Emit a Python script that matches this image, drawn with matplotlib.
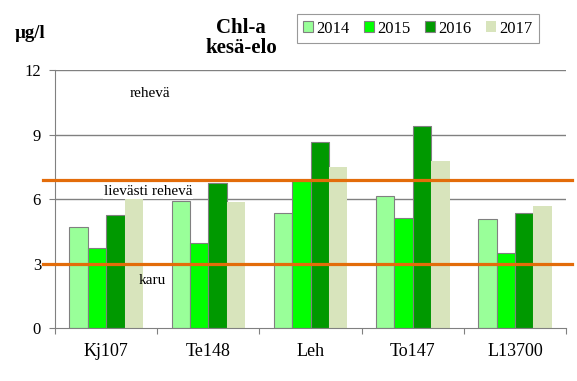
import numpy as np
import matplotlib
matplotlib.use("Agg")
import matplotlib.pyplot as plt

plt.rcParams['font.family'] = 'serif'
plt.rcParams['font.serif'] = ['Liberation Serif', 'Times New Roman', 'DejaVu Serif']

stations = ['Kj107', 'Te148', 'Leh', 'To147', 'L13700']
years = ['2014', '2015', '2016', '2017']
v2014 = [4.70, 5.90, 5.35, 6.13, 5.07]
v2015 = [3.72, 3.95, 6.85, 5.12, 3.49]
v2016 = [5.26, 6.74, 8.65, 9.40, 5.35]
v2017 = [6.30, 5.86, 7.49, 7.77, 5.67]
colors = ['#99FF99', '#00FF00', '#009900', '#D8E4BC']
edges = ['#808080', '#808080', '#808080', 'none']
limits = [3.0, 6.9]

fig = plt.figure(figsize=(5.77, 3.81), dpi=100)
ax = fig.add_axes([0.0953, 0.139, 0.886, 0.677])

x = np.arange(len(stations))
w = 0.18
for i, vals in enumerate([v2014, v2015, v2016, v2017]):
    ax.bar(x + (i - 1.5) * w, vals, w, color=colors[i], edgecolor=edges[i],
           linewidth=0.8, label=years[i], zorder=2)

for y in [3, 6, 9, 12]:
    ax.axhline(y, color='#808080', lw=1, zorder=1)

for lim in limits:
    ax.plot([-0.62, 4.56], [lim, lim], color='#E36C0A', lw=2.3,
            clip_on=False, zorder=3)

ax.text(0.43, 10.93, 'rehevä', fontsize=11, ha='center', va='center', zorder=4)
ax.text(0.41, 6.33, 'lievästi rehevä', fontsize=11, ha='center', va='center',
        zorder=4, bbox=dict(facecolor='white', edgecolor='none', pad=0.5))
ax.text(0.45, 2.19, 'karu', fontsize=11, ha='center', va='center', zorder=4)

ax.set_xlim(-0.5, 4.5)
ax.set_ylim(0, 12)
ax.set_yticks([0, 3, 6, 9, 12])
ax.set_xticks(np.arange(-0.5, 5, 1))
ax.set_xticklabels([])
ax.set_xticks(x, minor=True)
ax.set_xticklabels(stations, minor=True, fontsize=13)
ax.tick_params(axis='x', which='minor', length=0, pad=11)
ax.tick_params(axis='x', which='major', length=4, color='#808080', direction='out')
ax.tick_params(axis='y', length=4, color='#808080', labelsize=12, pad=6)
for s in ['top', 'right']:
    ax.spines[s].set_visible(False)
for s in ['left', 'bottom']:
    ax.spines[s].set_color('#808080')

fig.text(0.418, 0.900, 'Chl-a\nkesä-elo', fontsize=15, fontweight='bold',
         ha='center', va='center', linespacing=1.0)
fig.text(0.026, 0.913, 'µg/l', fontsize=13.5, fontweight='bold', ha='left', va='center')

leg = fig.legend(loc='center', bbox_to_anchor=(0.724, 0.925), ncol=4, fontsize=12,
                 frameon=True, fancybox=False, edgecolor='#808080',
                 handlelength=0.6, handleheight=0.6, handletextpad=0.2,
                 columnspacing=0.85, borderpad=0.4)
leg.get_frame().set_linewidth(0.8)

fig.savefig('out.png', dpi=100)
